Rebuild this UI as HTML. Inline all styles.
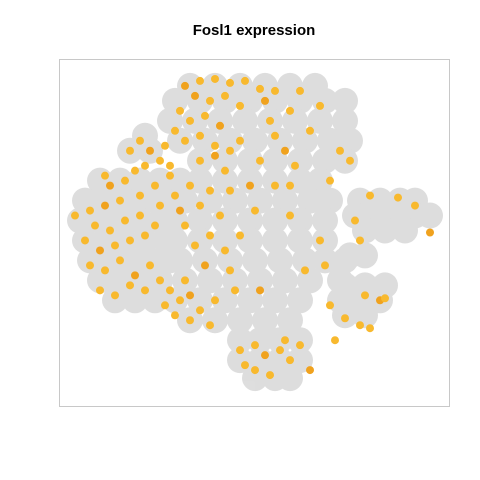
<!DOCTYPE html>
<html><head><meta charset="utf-8"><style>
html,body{margin:0;padding:0;background:#fff;}
svg{display:block;font-family:"Liberation Sans",sans-serif;}
</style></head><body>
<svg id="chart" width="480" height="480" viewBox="0 0 480 480">
<rect x="0" y="0" width="480" height="480" fill="#fff"/>
<text x="254" y="35" text-anchor="middle" font-size="15" font-weight="bold" fill="#000">Fosl1 expression</text>
<g id="grey" opacity="0.85"></g>
<g id="orange"></g>
<rect x="59.5" y="59.5" width="390" height="347" fill="none" stroke="#c8c8c8" stroke-width="1"/>
</svg>
<script>
// tSNE coordinates of low-expression cells, grouped by row (y, [x...])
const greyRows = [
 [29.4,[-12.8,-7.8,-2.8,2.2,7.2,12.2]],
 [26.4,[-15.8,-10.8,-5.8,-0.8,4.2,9.2,14.2,18.2]],
 [22.4,[-16.8,-11.8,-6.8,-1.8,3.2,8.2,13.2,18.2]],
 [19.4,[-21.8]],
 [18.4,[-14.8,-9.8,-4.8,0.2,5.2,10.2,15.2,19.2]],
 [16.4,[-24.8,-20.8]],
 [14.4,[-10.8,-5.8,-0.8,4.2,9.2,14.2,18.2]],
 [10.4,[-30.8,-26.8,-22.8,-18.8,-14.8,-10.8,-5.8,-0.8,4.2,9.2,13.2]],
 [6.4,[-33.8,-29.8,-25.8,-21.8,-17.8,-13.8,-8.8,-3.8,1.2,6.2,11.2,15.2,21.2,25.2,29.2,32.2]],
 [3.4,[20.2,24.2,28.2,32.2,35.2]],
 [2.4,[-34.8,-30.8,-26.8,-22.8,-18.8,-15.8,-10.8,-5.8,-0.8,4.2,9.2,14.2]],
 [0.4,[22.2,26.2,30.2]],
 [-1.6,[-33.8,-29.8,-25.8,-21.8,-17.8,-15.8,-10.8,-5.8,-0.8,4.2,9.2,14.2]],
 [-4.6,[19.2,22.2]],
 [-5.6,[-32.8,-28.8,-24.8,-20.8,-16.8,-14.8,-9.8,-4.8,0.2,5.2,10.2,14.2,18.2]],
 [-9.6,[-30.8,-26.8,-22.8,-18.8,-13.8,-8.8,-3.8,1.2,6.2,11.2,17.2]],
 [-10.6,[18.2,22.2,26.2]],
 [-13.6,[-27.8,-23.8,-19.8,-15.8,-10.8,-5.8,-0.8,4.2,9.2,17.2,21.2,25.2]],
 [-16.6,[18.2,22.2]],
 [-17.6,[-12.8,-7.8,-2.8,2.2,7.2]],
 [-21.6,[-2.8,1.2,5.2,9.2]],
 [-25.6,[-2.8,1.2,5.2,9.2]],
 [-29.2,[0.2,4.2,7.2]]
];
// tSNE coordinates of Fosl1-expressing cells
const orangeX = [-13.8,-10.8,-7.8,-4.8,-1.8,1.2,4.2,-11.8,-8.8,-5.8,-2.8,-14.8,-12.8,-9.8,-6.8,-15.8,-13.8,-10.8,-7.8,-4.8,-2.8,2.2,3.2,4.2,7.2,9.2,13.2,11.2,6.2,8.2,17.2,19.2,15.2,1.2,
 -22.8,-20.8,-18.8,-17.8,-16.8,-19.8,-15.8,-18.8,-14.8,-16.8,-21.8,-24.8,-23.8,-12.8,-10.8,-7.8,-5.8,-8.8,-10.8,-13.8,-6.8,-4.8,-0.8,4.2,0.2,-2.8,7.2,
 -35.8,-32.8,-29.8,-26.8,-31.8,-28.8,-25.8,-22.8,-33.8,-30.8,-27.8,-24.8,-21.8,-32.8,-29.8,-26.8,-23.8,-20.8,-30.8,-27.8,-24.8,-21.8,-18.8,-28.8,-25.8,-29.8,-22.8,-19.8,
 -16.8,-14.8,-12.8,-15.8,-12.8,-10.8,-8.8,-17.8,-13.8,-9.8,-7.8,-3.8,-5.8,-11.8,
 -2.8,0.2,2.2,5.2,7.2,9.2,0.2,3.2,-1.8,11.2,6.2,
 15.2,18.2,21.2,23.2,16.2,25.2,22.2,26.2,
 20.2,23.2,28.8,32.2,35.2,21.2,
 13.2,10.2,14.2,7.2,-4.8,1.2,-8.8];
const orangeY = [29.4,30.4,30.8,30,30.4,28.8,28.4,27.4,26.4,27.4,25.4,24.4,22.4,23.4,21.4,20.4,18.4,19.4,17.4,16.4,18.4,26.4,22.4,19.4,24.4,28.4,25.4,20.4,16.4,13.4,16.4,14.4,10.4,14.4,
 18.4,16.4,14.4,17.4,11.4,9.4,7.4,5.4,4.4,13.4,13.4,16.4,12.4,9.4,14.4,15.4,12.4,8.4,5.4,1.4,3.4,8.4,9.4,9.4,4.4,-0.6,3.4,
 3.4,4.4,5.4,6.4,1.4,0.4,2.4,3.4,-1.6,-3.6,-2.6,-1.6,-0.6,-6.6,-7.6,-5.6,-8.6,-6.6,-11.6,-12.6,-10.6,-11.6,-9.6,9.4,10.4,11.4,7.4,1.4,
 -11.6,-13.6,-12.6,-16.6,-17.6,-15.6,-18.6,-14.6,-9.6,-6.6,-13.6,-11.6,-3.6,-2.6,
 -23.6,-22.6,-24.6,-23.6,-25.6,-22.6,-27.6,-28.6,-26.6,-27.6,-21.6,
 -14.6,-17.2,-18.6,-19.2,-21.6,-13.6,-12.6,-13.2,
 2.4,7.4,7,5.4,0,-1.6,
 -1.6,-7.6,-6.6,9.4,-7.6,-11.6,-0.6];

const xDomain=[-39,39], yDomain=[-34.8,34.8];
function xScale(v){return 59+(v-xDomain[0])/(xDomain[1]-xDomain[0])*390;}
function yScale(v){return 406-(v-yDomain[0])/(yDomain[1]-yDomain[0])*347;}
const NS="http://www.w3.org/2000/svg";
const gG=document.getElementById('grey');
greyRows.forEach(function(row){
  row[1].forEach(function(x){
    const c=document.createElementNS(NS,'circle');
    c.setAttribute('cx',xScale(x));c.setAttribute('cy',yScale(row[0]));
    c.setAttribute('r',13);c.setAttribute('fill','#d8d8d8');
    
    
    gG.appendChild(c);
  });
});
const gO=document.getElementById('orange');
orangeX.forEach(function(x,i){
  const c=document.createElementNS(NS,'circle');
  c.setAttribute('cx',xScale(x));c.setAttribute('cy',yScale(orangeY[i]));
  c.setAttribute('r',4);c.setAttribute('fill',i%7===0?'#f0a21e':'#f8b92e');
  
  
  gO.appendChild(c);
});
</script>
</body></html>
